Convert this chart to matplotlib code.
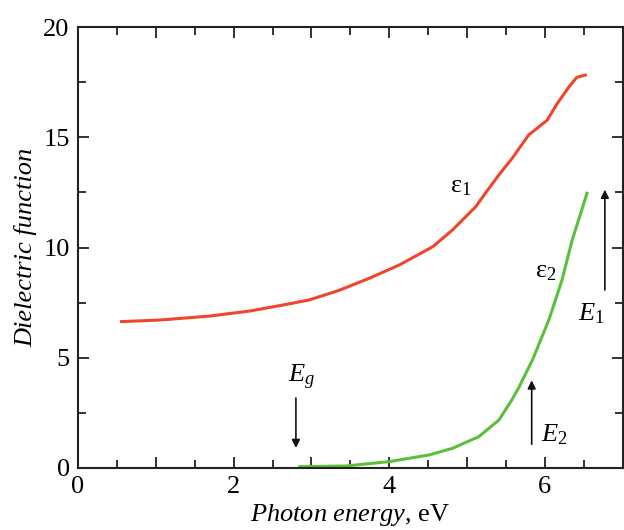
import numpy as np
import matplotlib
matplotlib.use("Agg")
import matplotlib.pyplot as plt
from matplotlib.ticker import MultipleLocator, FuncFormatter

plt.rcParams['font.family'] = ['Liberation Serif', 'DejaVu Serif']
plt.rcParams['mathtext.fontset'] = 'custom'
plt.rcParams['mathtext.rm'] = 'Liberation Serif'
plt.rcParams['mathtext.it'] = 'Liberation Serif:italic'

e1_x = np.array([0.56, 1.05, 1.69, 2.21, 2.63, 2.97, 3.35, 3.74, 4.13, 4.56, 4.81,
                 5.11, 5.28, 5.41, 5.58, 5.79, 6.03, 6.16, 6.31, 6.41, 6.52])
e1_y = np.array([6.64, 6.71, 6.89, 7.12, 7.39, 7.62, 8.05, 8.60, 9.21, 10.04, 10.79,
                 11.85, 12.68, 13.30, 14.05, 15.10, 15.78, 16.54, 17.29, 17.72, 17.82])

# eps2 (imaginary part)
e2_x = np.array([2.85, 3.44, 4.0, 4.51, 4.81, 5.15, 5.41, 5.58, 5.67, 5.84,
                 6.05, 6.22, 6.35, 6.46, 6.54])
e2_y = np.array([0.06, 0.09, 0.29, 0.59, 0.89, 1.42, 2.18, 3.12, 3.69, 4.90,
                 6.71, 8.53, 10.34, 11.55, 12.46])

fig = plt.figure(figsize=(6.24, 5.30), dpi=100)
ax = fig.add_axes([0.125, 0.117, 0.873, 0.832])

ax.plot(e1_x, e1_y, color='#f0452a', lw=2.2, solid_joinstyle='round')
ax.plot(e2_x, e2_y, color='#5cbf3c', lw=2.2, solid_joinstyle='round')

ax.set_xlim(0, 7)
ax.set_ylim(0, 20)
ax.xaxis.set_major_locator(MultipleLocator(1))
ax.xaxis.set_minor_locator(MultipleLocator(0.5))
ax.xaxis.set_major_formatter(FuncFormatter(lambda v, p: '%d' % v if int(round(v)) % 2 == 0 else ''))
ax.yaxis.set_major_locator(MultipleLocator(5))
ax.yaxis.set_minor_locator(MultipleLocator(2.5))
ax.tick_params(which='both', direction='in', top=True, right=True, labelsize=19, width=1.3, color='#222222')
ax.tick_params(which='major', length=8, pad=6)
ax.tick_params(which='minor', length=6)
for s in ax.spines.values():
    s.set_linewidth(1.5)
    s.set_color('#222222')

ax.set_xlabel(r'$\mathit{Photon\ energy}$, eV', fontsize=19, labelpad=3)
ax.set_ylabel('Dielectric function', fontsize=19, style='italic', labelpad=4)

ax.text(4.92, 12.76, r'$\mathrm{ε}_1$', fontsize=19, ha='center', va='center')
ax.text(6.01, 8.9, r'$\mathrm{ε}_2$', fontsize=19, ha='center', va='center')

arrow = dict(arrowstyle='-|>', color='#111111', lw=1.2, mutation_scale=12)
ax.annotate('', xy=(2.80, 0.78), xytext=(2.80, 3.3), arrowprops=arrow)
ax.text(2.87, 4.1, r'$E_g$', fontsize=19, ha='center', va='center')
ax.annotate('', xy=(5.83, 4.1), xytext=(5.83, 0.95), arrowprops=arrow)
ax.text(6.12, 1.5, r'$E_2$', fontsize=19, ha='center', va='center')
ax.annotate('', xy=(6.77, 12.75), xytext=(6.77, 7.95), arrowprops=arrow)
ax.text(6.6, 7.0, r'$E_1$', fontsize=19, ha='center', va='center')

fig.savefig('out.png', dpi=100)
